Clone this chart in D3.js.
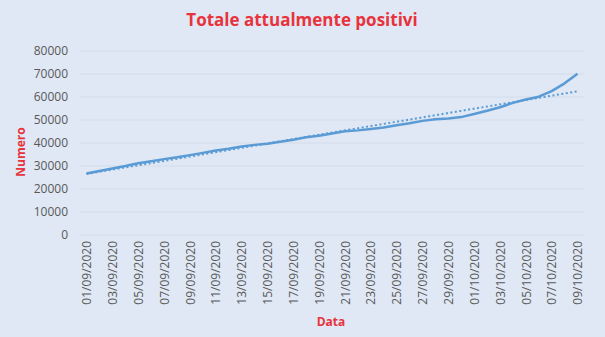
<!DOCTYPE html>
<html><head><meta charset="utf-8">
<script src="https://cdn.jsdelivr.net/npm/d3@7"></script>
<style>body{margin:0;background:#dfe8f4;}svg{display:block;}</style>
</head><body>
<script>
const dates = ["01/09/2020","02/09/2020","03/09/2020","04/09/2020","05/09/2020","06/09/2020","07/09/2020","08/09/2020","09/09/2020","10/09/2020","11/09/2020","12/09/2020","13/09/2020","14/09/2020","15/09/2020","16/09/2020","17/09/2020","18/09/2020","19/09/2020","20/09/2020","21/09/2020","22/09/2020","23/09/2020","24/09/2020","25/09/2020","26/09/2020","27/09/2020","28/09/2020","29/09/2020","30/09/2020","01/10/2020","02/10/2020","03/10/2020","04/10/2020","05/10/2020","06/10/2020","07/10/2020","08/10/2020","09/10/2020"];
const positivi = [26754,27817,28915,29989,31194,32078,32993,33789,34733,35708,36767,37503,38509,39187,39712,40532,41413,42457,43161,44098,45079,45489,46114,46780,47718,48593,49618,50323,50630,51263,52647,54015,55566,57429,58903,60134,62576,65952,70110];
const yTicks = [0,10000,20000,30000,40000,50000,60000,70000,80000];
const tickDates = dates.filter((d,i)=>i%2===0);

const W=605,H=337;
const m={left:80,right:21,top:51,bottom:102};
const svg=d3.select("body").append("svg").attr("width",W).attr("height",H);
svg.append("rect").attr("width",W).attr("height",H).attr("fill","#dfe8f4");

const x=d3.scalePoint().domain(dates).range([m.left+6.5,W-m.right-6.5]);
const y=d3.scaleLinear().domain([0,80000]).range([H-m.bottom,m.top]);

// gridlines
svg.append("g").selectAll("line").data(yTicks).join("line")
  .attr("x1",m.left).attr("x2",W-m.right)
  .attr("y1",d=>y(d)).attr("y2",d=>y(d))
  .attr("stroke","#d3dde9").attr("stroke-width",1);

// y axis
const yAxis=svg.append("g").attr("transform",`translate(${m.left},0)`)
  .call(d3.axisLeft(y).tickValues(yTicks).tickSize(0).tickPadding(12).tickFormat(d3.format("d")));
yAxis.select(".domain").remove();
yAxis.selectAll("text").attr("fill","#595959").attr("font-size","12px").attr("font-family","'Open Sans', sans-serif");

// x axis
const xAxis=svg.append("g").attr("transform",`translate(0,${H-m.bottom})`)
  .call(d3.axisBottom(x).tickValues(tickDates).tickSize(0).tickPadding(0));
xAxis.select(".domain").remove();
xAxis.selectAll("text").attr("fill","#595959").attr("font-size","12px").attr("font-family","'Open Sans', sans-serif")
  .attr("transform","rotate(-90)").attr("text-anchor","end").attr("dx","-6px").attr("dy","0.35em").attr("x",0).attr("y",0);

// trendline (linear regression of series)
const n=positivi.length;
const idx=d3.range(n);
const mx=d3.mean(idx), my=d3.mean(positivi);
const slope=d3.sum(idx,i=>(i-mx)*(positivi[i]-my))/d3.sum(idx,i=>(i-mx)*(i-mx));
const icpt=my-slope*mx;
svg.append("line")
  .attr("x1",x(dates[0])).attr("y1",y(icpt))
  .attr("x2",x(dates[n-1])).attr("y2",y(icpt+slope*(n-1)))
  .attr("stroke","#5b9bd5").attr("stroke-width",2).attr("stroke-dasharray","2,2.5");

// line
svg.append("path").datum(positivi)
  .attr("d",d3.line().x((d,i)=>x(dates[i])).y(d=>y(d)))
  .attr("fill","none").attr("stroke","#5b9bd5").attr("stroke-width",2.5).attr("stroke-linejoin","round");

// titles
svg.append("text").attr("x",302).attr("y",26).attr("text-anchor","middle")
  .attr("font-family","'Open Sans', sans-serif").attr("font-weight","bold").attr("font-size","17px")
  .attr("fill","#e8333c").text("Totale attualmente positivi");
svg.append("text").attr("transform","translate(25,152) rotate(-90)").attr("text-anchor","middle")
  .attr("font-family","'Open Sans', sans-serif").attr("font-weight","bold").attr("font-size","12px")
  .attr("fill","#e8333c").text("Numero");
svg.append("text").attr("x",331).attr("y",326).attr("text-anchor","middle")
  .attr("font-family","'Open Sans', sans-serif").attr("font-weight","bold").attr("font-size","12px")
  .attr("fill","#e8333c").text("Data");
</script>
</body></html>
